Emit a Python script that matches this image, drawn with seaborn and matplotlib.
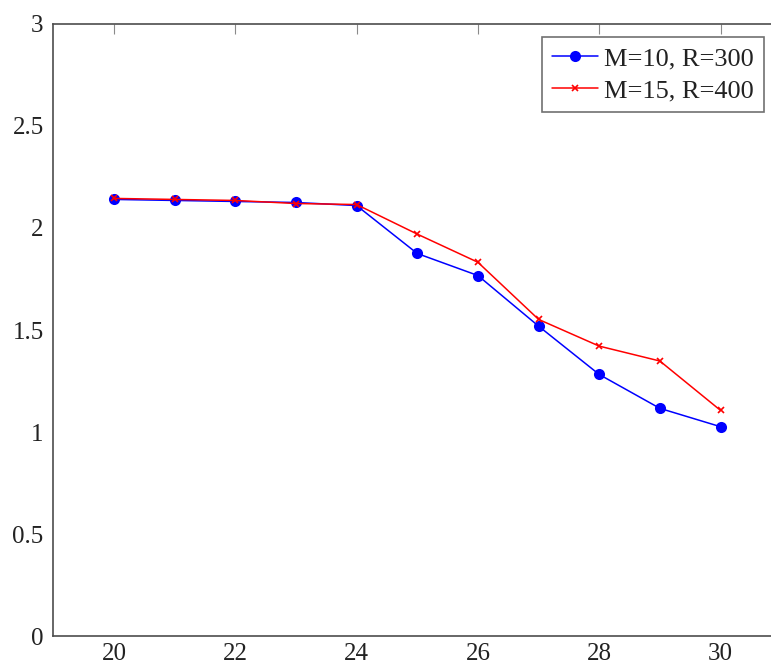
import numpy as np
import pandas as pd
import matplotlib
matplotlib.use('Agg')
import matplotlib.pyplot as plt
import seaborn as sns

# values
x_vals = [20, 21, 22, 23, 24, 25, 26, 27, 28, 29, 30]
m10_r300 = [2.14, 2.135, 2.13, 2.125, 2.11, 1.875, 1.767, 1.519, 1.282, 1.116, 1.026]
m15_r400 = [2.145, 2.14, 2.135, 2.12, 2.115, 1.97, 1.832, 1.552, 1.421, 1.348, 1.106]
series_names = ['M=10, R=300', 'M=15, R=400']
x_ticks = [20, 22, 24, 26, 28, 30]
y_ticks = [0, 0.5, 1, 1.5, 2, 2.5, 3]
y_tick_labels = ['0', '0.5', '1', '1.5', '2', '2.5', '3']

df = pd.DataFrame({
    'x': x_vals * 2,
    'y': m10_r300 + m15_r400,
    'series': [series_names[0]] * len(x_vals) + [series_names[1]] * len(x_vals),
})

sns.set_theme(style='white')
plt.rcParams['font.family'] = ['Liberation Serif', 'DejaVu Serif']

fig = plt.figure(figsize=(7.71, 6.66), dpi=100)
# axes run past the right edge of the canvas, like the cropped reference
ax = fig.add_axes([0.0692, 0.045, 0.944, 0.919])

sns.lineplot(data=df, x='x', y='y', hue='series', style='series',
             palette=['#0000ff', '#ff0000'], markers=['o', 'X'], dashes=False,
             ax=ax, linewidth=1.1, legend=False)

# marker looks per series
lines = ax.get_lines()
lines[0].set_marker('o')
lines[0].set_markersize(8)
lines[0].set_markeredgewidth(0)
lines[0].set_markerfacecolor('#0000ff')
lines[1].set_marker('x')
lines[1].set_markersize(5)
lines[1].set_markeredgewidth(1.2)
lines[1].set_markeredgecolor('#ff0000')

ax.set_xlim(19, 31)
ax.set_ylim(0, 3)
ax.set_xticks(x_ticks)
ax.set_yticks(y_ticks)
ax.set_yticklabels(y_tick_labels)
ax.set_xlabel('')
ax.set_ylabel('')

for s in ax.spines.values():
    s.set_color('#4d4d4d')
    s.set_linewidth(1.2)
ax.spines['right'].set_visible(False)
ax.tick_params(direction='in', length=7, width=0.8, color='#8a8a8a',
               top=True, right=True, labelsize=18, labelcolor='#222222')
ax.tick_params(axis='x', pad=5)
ax.tick_params(axis='y', pad=7)

leg = ax.legend(handles=lines, labels=series_names, loc='upper right',
                bbox_to_anchor=(0.9766, 0.9788), fontsize=19, frameon=True,
                fancybox=False, edgecolor='#4d4d4d', handlelength=1.72,
                borderpad=0.38, labelspacing=0.32, handletextpad=0.25,
                borderaxespad=0.0)
leg.get_frame().set_linewidth(1.2)
for t in leg.get_texts():
    t.set_color('#222222')

fig.savefig('out.png', dpi=100)
